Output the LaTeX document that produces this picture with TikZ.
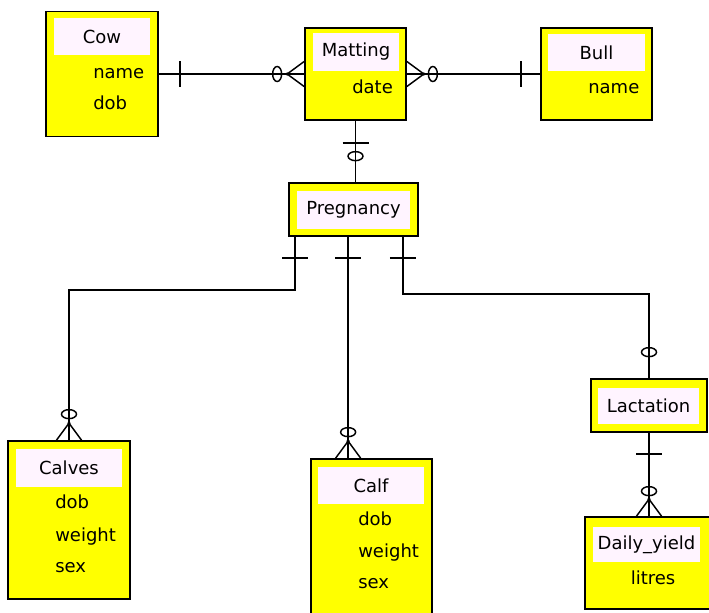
\documentclass[tikz,border=0pt]{standalone}
\usepackage{fontspec}
\setmainfont{DejaVu Sans}
\usetikzlibrary{calc}
\definecolor{entyellow}{HTML}{FFFF00}
\definecolor{entpink}{HTML}{FFF4FF}

\begin{document}
\begin{tikzpicture}[
  x=0.75pt,y=-0.75pt,
  font=\fontsize{13.5}{16}\selectfont,
  entity/.style={rectangle,draw,line width=1.3pt,fill=entyellow,inner sep=0pt},
  ttl/.style={rectangle,fill=entpink,inner sep=0pt},
  attr/.style={anchor=base west,inner sep=0pt},
  link/.style={line width=1.1pt},
  bar/.pic={\draw[link] (0,-13) -- (0,13);},
  ring/.pic={\draw[link] (0,0) ellipse [x radius=4.5,y radius=7.5];},
  crow/.pic={\draw[link] (0,-12.5) -- (-17,0) -- (0,12.5);
             \fill (-17,0) circle [radius=1.8];}
]
\useasboundingbox (0,0) rectangle (709,612);
\clip (0,0) rectangle (709,612);
% top row
\node[entity,minimum width=84pt,minimum height=93.75pt] (cow) at (102,74) {};
\node[ttl,minimum width=72pt,minimum height=27.75pt] (cowt) at (102,36.5) {Cow};
\node[attr] (cowname) at (93,78) {name};
\node[attr] (cowdob) at (93,109) {dob};
\node[entity,minimum width=75.75pt,minimum height=69pt] (mat) at (355.5,74) {};
\node[ttl,minimum width=64.5pt,minimum height=28.5pt] (matt) at (356,52) {Matting};
\node[attr] (matdate) at (352,93) {date};
\node[entity,minimum width=83.25pt,minimum height=69pt] (bull) at (596.5,74) {};
\node[ttl,minimum width=72.75pt,minimum height=27.75pt] (bullt) at (596.5,52.5) {Bull};
\node[attr] (bullname) at (588,93) {name};
% middle
\node[entity,minimum width=96.75pt,minimum height=39.75pt] (preg) at (353.5,209.5) {};
\node[ttl,minimum width=84.75pt,minimum height=28.5pt] (pregt) at (353.5,209.5) {Pregnancy};
\node[entity,minimum width=87pt,minimum height=39.75pt] (lact) at (649,405.5) {};
\node[ttl,minimum width=75.75pt,minimum height=27pt] (lactt) at (648.5,405.5) {Lactation};
% bottom row
\node[entity,minimum width=91.5pt,minimum height=118.5pt] (calves) at (69,520) {};
\node[ttl,minimum width=79.5pt,minimum height=28.5pt] (calvest) at (69,468) {Calves};
\node[attr] (calvesdob) at (55,508) {dob};
\node[attr] (calvesweight) at (55,541) {weight};
\node[attr] (calvessex) at (55,572) {sex};
\node[entity,minimum width=90.75pt,minimum height=119.25pt] (calf) at (371.5,538.5) {};
\node[ttl,minimum width=79.5pt,minimum height=27.75pt] (calft) at (371,485.5) {Calf};
\node[attr] (calfdob) at (358,525) {dob};
\node[attr] (calfweight) at (358,557) {weight};
\node[attr] (calfsex) at (358,588) {sex};
\node[entity,minimum width=95.25pt,minimum height=69pt] (daily) at (648.5,563) {};
\node[ttl,minimum width=80.25pt,minimum height=26.25pt] (dailyt) at (646.5,544.5) {Daily\_yield};
\node[anchor=base,inner sep=0pt] (dailylitres) at (653,584) {litres};
% relationships
\draw[link] (cow.east) -- (cow.east -| mat.west);
\pic at ($(cow.east)+(21,0)$) {bar};
\pic at ($(mat.west)+(-27,0)$) {ring};
\pic at (mat.west) {crow};
\draw[link] (mat.east) -- (mat.east -| bull.west);
\pic[rotate=180] at (mat.east) {crow};
\pic at ($(mat.east)+(26,0)$) {ring};
\pic at ($(bull.west)+(-19,0)$) {bar};
\draw[link] (mat.south) -- (mat.south |- preg.north);
\pic[rotate=90] at ($(mat.south)+(0,22)$) {bar};
\pic[rotate=90] at ($(mat.south |- preg.north)+(0,-26)$) {ring};
% pregnancy to the three below
\coordinate (pregl) at ($(preg.south west)+(7,0)$);
\coordinate (pregr) at ($(preg.south east)+(-16,0)$);
\coordinate (calfin) at ($(calf.north west)+(38,0)$);
\draw[link] (pregl) -- ++(0,53) -| (calves.north);
\pic[rotate=90] at ($(pregl)+(0,21)$) {bar};
\pic[rotate=90] at ($(calves.north)+(0,-26)$) {ring};
\pic[rotate=-90] at (calves.north) {crow};
\draw[link] (calfin |- preg.south) -- (calfin);
\pic[rotate=90] at ($(calfin |- preg.south)+(0,21)$) {bar};
\pic[rotate=90] at ($(calfin)+(0,-26)$) {ring};
\pic[rotate=-90] at (calfin) {crow};
\draw[link] (pregr) -- ++(0,57) -| (lact.north);
\pic[rotate=90] at ($(pregr)+(0,21)$) {bar};
\pic[rotate=90] at ($(lact.north)+(0,-26)$) {ring};
\draw[link] (lact.south) -- (lact.south |- daily.north);
\pic[rotate=90] at ($(lact.south)+(0,21)$) {bar};
\pic[rotate=90] at ($(lact.south |- daily.north)+(0,-25)$) {ring};
\pic[rotate=-90] at (lact.south |- daily.north) {crow};
\end{tikzpicture}
\end{document}
